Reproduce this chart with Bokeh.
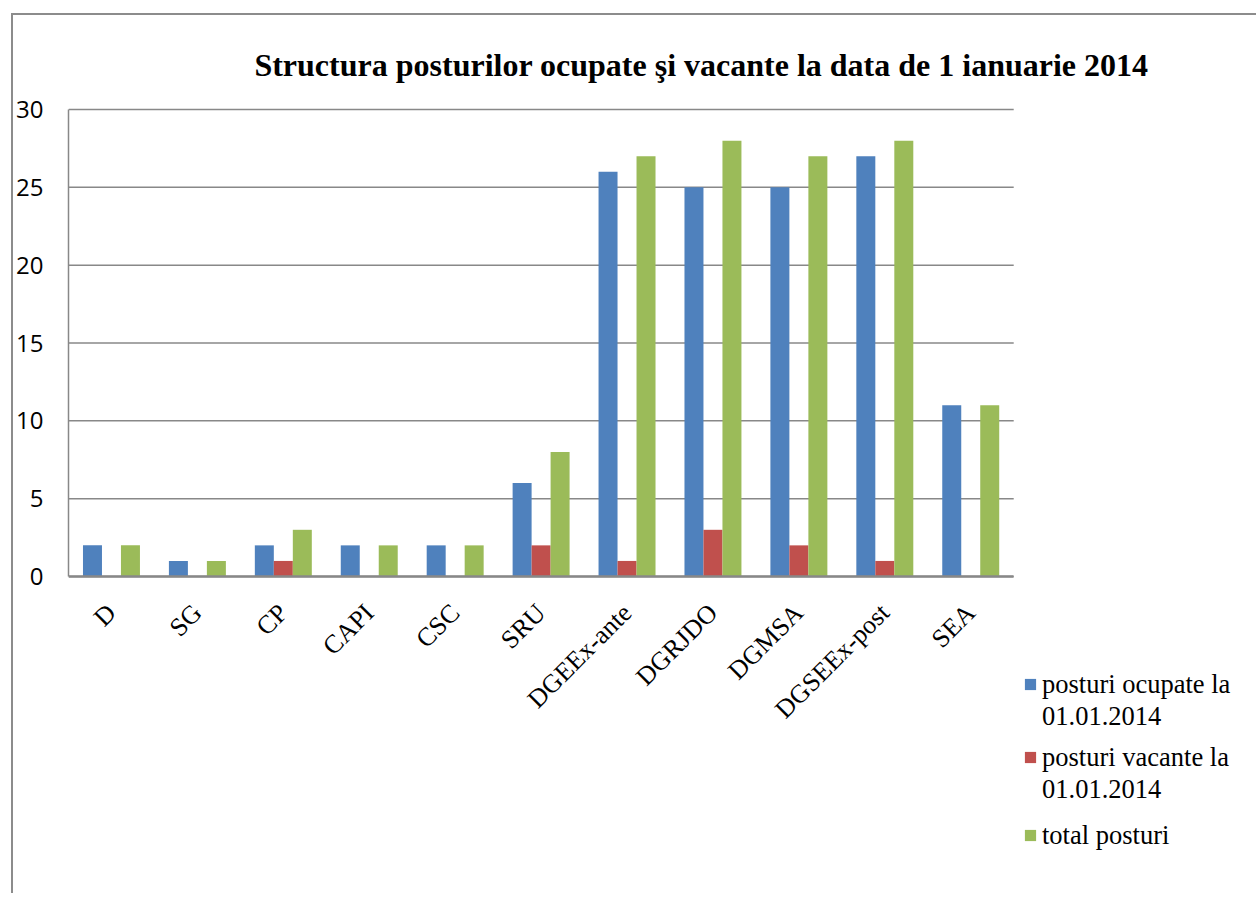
import math
from bokeh.plotting import figure
from bokeh.models import (Range1d, Legend, LegendItem, Label, LinearAxis,
                          ColumnDataSource, FixedTicker)
from bokeh.transform import dodge
from bokeh.embed import file_html
from bokeh.resources import INLINE

categories = ["D", "SG", "CP", "CAPI", "CSC", "SRU", "DGEEx-ante", "DGRJDO",
              "DGMSA", "DGSEEx-post", "SEA"]
ocupate = [2, 1, 2, 2, 2, 6, 26, 25, 25, 27, 11]
vacante = [0, 0, 1, 0, 0, 2, 1, 3, 2, 1, 0]
total = [2, 1, 3, 2, 2, 8, 27, 28, 27, 28, 11]
series_labels = [["posturi ocupate la", "01.01.2014"],
                 ["posturi vacante la", "01.01.2014"],
                 ["total posturi"]]
title_text = "Structura posturilor ocupate şi vacante la data de 1 ianuarie 2014"
y_ticks = [0, 5, 10, 15, 20, 25, 30]

colors = ["#4F81BD", "#C0504D", "#9BBB59"]
GRID = "#888888"

# ---- layout constants (pixels) ----
W, H = 1245, 880
OX, OY = 13, 15            # canvas origin on the page (margin + border)
PL, PR = 67, 1013          # plot area left/right on the page
PT, PB = 109, 576          # plot area top/bottom on the page
FL, FR = PL, OX + W        # frame extent on the page
FT, FB = OY, OY + H

n = len(categories)
ymax = y_ticks[-1]
ppu = (PB - PT) / ymax                 # pixels per unit
ppc = (PR - PL) / n                    # pixels per category
x_end = (FR - FL) / ppc
y_start = -(FB - PB) / ppu
y_end = ymax + (PT - FT) / ppu

xs = [i + 0.5 for i in range(n)]
src = ColumnDataSource(dict(x=xs, cat=categories, ocupate=ocupate,
                            vacante=vacante, total=total))

p = figure(width=W, height=H,
           x_range=Range1d(0, x_end), y_range=Range1d(y_start, y_end),
           output_backend="svg", toolbar_location=None,
           x_axis_type=None, y_axis_type=None,
           min_border_left=FL - OX, min_border_right=0,
           min_border_top=0, min_border_bottom=0)
p.margin = (13, 0, 0, 11)
p.styles = {"border-top": "2px solid #8c8c8c", "border-left": "2px solid #8c8c8c"}
p.outline_line_color = None
p.background_fill_color = "white"
p.border_fill_color = "white"
p.xgrid.visible = False
p.ygrid.visible = False

# gridlines across the category area only
p.segment(x0=[0] * len(y_ticks), x1=[n] * len(y_ticks), y0=y_ticks, y1=y_ticks,
          line_color=GRID, line_width=1.5)

bw = 0.221
r1 = p.vbar(x=dodge("x", -bw), top="ocupate", width=bw,
            source=src, fill_color=colors[0], line_color=None)
r2 = p.vbar(x=dodge("x", 0.0), top="vacante", width=bw,
            source=src, fill_color=colors[1], line_color=None)
r3 = p.vbar(x=dodge("x", bw), top="total", width=bw,
            source=src, fill_color=colors[2], line_color=None)
blank = p.vbar(x=[], top=[], width=bw, fill_alpha=0, line_alpha=0)

# y axis
yaxis = LinearAxis(ticker=FixedTicker(ticks=y_ticks), bounds=(0, ymax))
yaxis.major_tick_line_color = None
yaxis.minor_tick_line_color = None
yaxis.major_tick_out = 0
yaxis.major_tick_in = 0
yaxis.axis_line_color = GRID
yaxis.axis_line_width = 1.5
yaxis.major_label_standoff = 25
yaxis.major_label_text_font = "Open Sans"
yaxis.major_label_text_font_size = "24px"
yaxis.major_label_text_color = "black"
p.add_layout(yaxis, "left")

# x axis (categories) fixed at y = 0
xaxis = LinearAxis(ticker=FixedTicker(ticks=xs), bounds=(0, n), fixed_location=0,
                   major_label_overrides={x: c for x, c in zip(xs, categories)})
xaxis.major_tick_line_color = None
xaxis.minor_tick_line_color = None
xaxis.major_tick_out = 0
xaxis.major_tick_in = 0
xaxis.axis_line_color = GRID
xaxis.axis_line_width = 2.5
xaxis.major_label_orientation = math.pi / 4
xaxis.major_label_standoff = 32
xaxis.major_label_text_font = "Liberation Serif"
xaxis.major_label_text_font_size = "26px"
xaxis.major_label_text_color = "black"
p.add_layout(xaxis, "below")

# title
p.add_layout(Label(x=700 - FL, y=FB - 64, x_units="screen", y_units="screen",
                   text=title_text, text_align="center",
                   text_baseline="alphabetic",
                   text_font="Liberation Serif", text_font_style="bold",
                   text_font_size="32px", text_color="black"))

# legend: one small legend per series so wrapped labels can be placed freely
fs = 26.5
item_h = 1.107 * fs
line_pitch = 30
first_baselines = [695, 768, 844]
for lines, rend, base in zip(series_labels, [r1, r2, r3], first_baselines):
    items = [LegendItem(label=lines[0], renderers=[rend])]
    for extra in lines[1:]:
        items.append(LegendItem(label=extra, renderers=[blank]))
    center = base - 8
    top = center - item_h / 2
    bottom = top + item_h * len(lines) + (line_pitch - item_h) * (len(lines) - 1)
    lg = Legend(items=items, location=(1022 - FL, FB - bottom))
    lg.label_text_font = "Liberation Serif"
    lg.label_text_font_size = f"{fs}px"
    lg.label_text_color = "black"
    lg.glyph_width = 14
    lg.glyph_height = 14
    lg.label_standoff = 5
    lg.spacing = max(0, int(round(line_pitch - item_h)))
    lg.padding = 0
    lg.margin = 0
    lg.border_line_color = None
    lg.background_fill_alpha = 0
    p.add_layout(lg)

open("out.html", "w").write(file_html(p, INLINE))
